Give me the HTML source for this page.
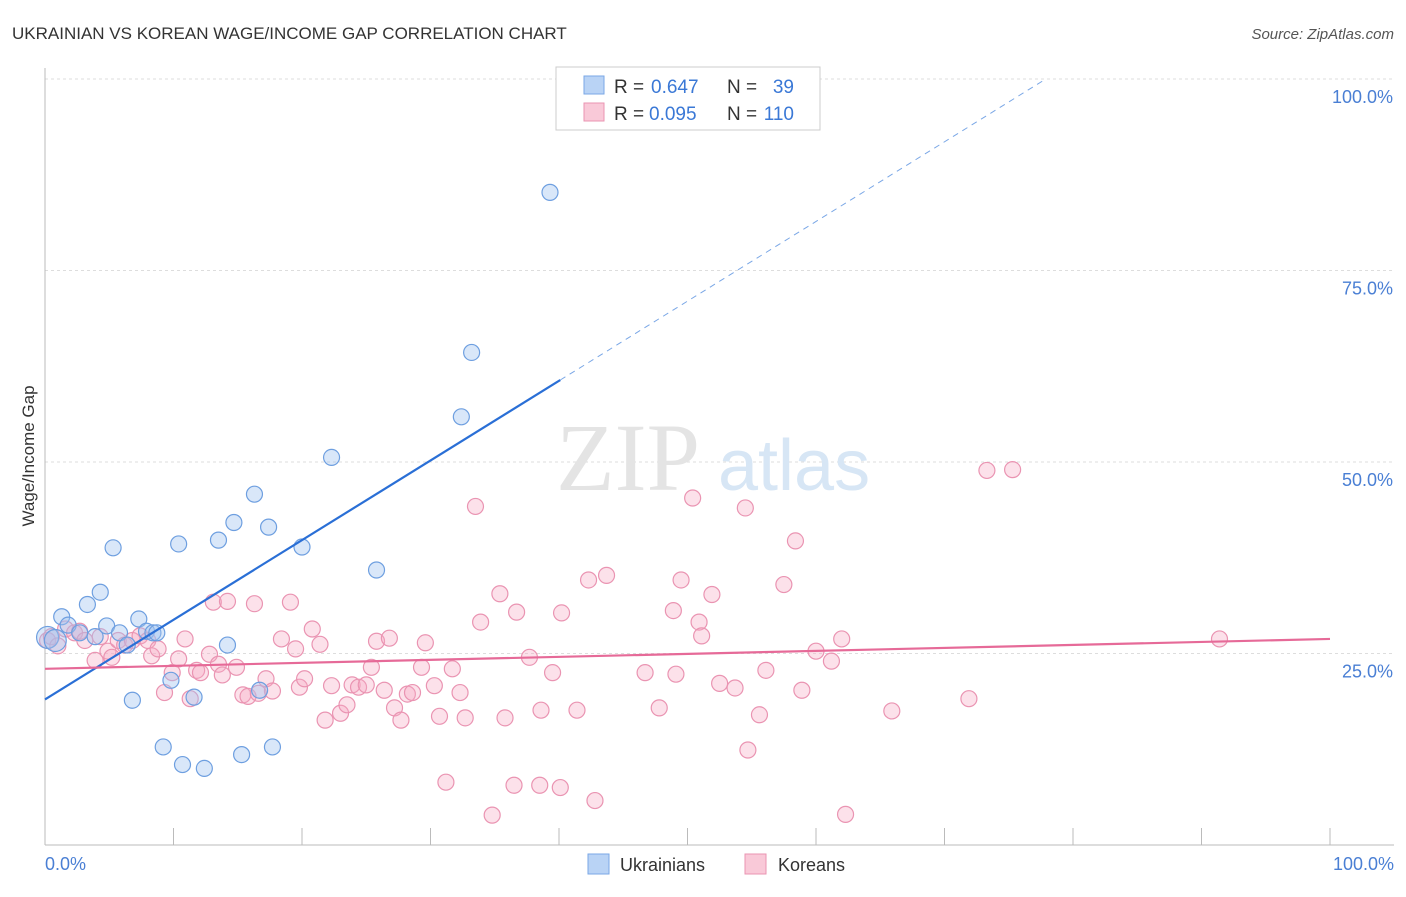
<!DOCTYPE html>
<html><head><meta charset="utf-8"><style>
body{margin:0;background:#fff;font-family:"Liberation Sans",sans-serif;}
</style></head><body>
<svg width="1406" height="892" xmlns="http://www.w3.org/2000/svg" style="font-family:'Liberation Sans',sans-serif">
<text x="12" y="39" font-size="17" fill="#333">UKRAINIAN VS KOREAN WAGE/INCOME GAP CORRELATION CHART</text>
<text x="1394" y="39" font-size="15" fill="#555" text-anchor="end" font-style="italic">Source: ZipAtlas.com</text>
<g id="grid"></g>
<text x="700" y="490" font-size="96" fill="#e4e4e4" text-anchor="end" font-family="Liberation Serif">ZIP</text>
<text x="718" y="490" font-size="72" fill="#d7e6f5">atlas</text>
<line x1="45" y1="68" x2="45" y2="845" stroke="#bbb"/>
<line x1="45" y1="845" x2="1394" y2="845" stroke="#bbb"/>
<g id="ticks"></g>
<g id="ylabels"></g>
<text x="45" y="870" font-size="18" fill="#4a7fd4">0.0%</text>
<text x="1394" y="870" font-size="18" fill="#4a7fd4" text-anchor="end">100.0%</text>
<text transform="translate(34,456) rotate(-90)" font-size="17" fill="#333" text-anchor="middle">Wage/Income Gap</text>
<g id="pink"></g>
<g id="blue"></g>
<g id="lines"></g>
<g>
<rect x="556" y="67" width="264" height="63" fill="#fff" stroke="#ccc"/>
<rect x="584" y="76" width="20" height="18" fill="#b9d3f5" stroke="#7aa7e6"/>
<rect x="584" y="103" width="20" height="18" fill="#f9c9d8" stroke="#ea94b2"/>
<text x="614" y="93" font-size="19" fill="#333">R =</text>
<text x="651" y="93" font-size="19" fill="#3a78d6">0.647</text>
<text x="727" y="93" font-size="19" fill="#333">N =</text>
<text x="794" y="93" font-size="19" fill="#3a78d6" text-anchor="end">39</text>
<text x="614" y="120" font-size="19" fill="#333">R =</text>
<text x="649" y="120" font-size="19" fill="#3a78d6">0.095</text>
<text x="727" y="120" font-size="19" fill="#333">N =</text>
<text x="794" y="120" font-size="19" fill="#3a78d6" text-anchor="end">110</text>
</g>
<g>
<rect x="588" y="854" width="21" height="20" fill="#b9d3f5" stroke="#7aa7e6"/>
<text x="620" y="871" font-size="18" fill="#333">Ukrainians</text>
<rect x="745" y="854" width="21" height="20" fill="#f9c9d8" stroke="#ea94b2"/>
<text x="778" y="871" font-size="18" fill="#333">Koreans</text>
</g>
</svg>
<script>
const blueX=[0.2,0.8,1.3,1.8,2.7,3.3,3.9,4.3,4.8,5.3,5.8,6.4,6.8,7.3,7.9,8.4,8.7,9.2,9.8,10.4,10.7,11.6,12.4,13.5,14.2,14.7,15.3,16.3,16.7,17.4,17.7,20.0,22.3,25.8,32.4,33.2,39.3];
const blueY=[27.1,26.7,29.8,28.7,27.7,31.4,27.2,33.0,28.6,38.8,27.7,26.1,18.9,29.5,27.9,27.7,27.7,12.8,21.5,39.3,10.5,19.3,10.0,39.8,26.1,42.1,11.8,45.8,20.2,41.5,12.8,38.9,50.6,35.9,55.9,64.3,85.2];
const pinkX=[0.2,0.5,1.0,1.6,2.3,2.7,3.1,3.9,4.3,4.9,5.2,5.7,6.2,6.8,7.4,8.0,8.3,8.8,9.3,9.9,10.4,10.9,11.3,11.8,12.1,12.8,13.1,13.5,13.8,14.2,14.9,15.4,15.8,16.3,16.6,17.2,17.7,18.4,19.1,19.5,19.8,20.2,20.8,21.4,21.8,22.3,23.0,23.5,23.9,24.4,25.0,25.4,25.8,26.4,26.8,27.2,27.7,28.2,28.6,29.3,29.6,30.3,30.7,31.2,31.7,32.3,32.7,33.5,33.9,34.8,35.4,35.8,36.5,36.7,37.7,38.5,38.6,39.5,40.1,40.2,41.4,42.3,42.8,43.7,46.7,47.8,48.9,49.1,49.5,50.4,50.9,51.1,51.9,52.5,53.7,54.5,54.7,55.6,56.1,57.5,58.4,58.9,60.0,61.2,62.0,62.3,65.9,71.9,73.3,75.3,91.4];
const pinkY=[26.7,27.2,26.0,28.2,27.7,27.9,26.7,24.1,27.2,25.3,24.5,26.7,26.1,26.7,27.3,26.7,24.7,25.6,19.9,22.5,24.3,26.9,19.1,22.8,22.5,24.9,31.7,23.6,22.2,31.8,23.2,19.6,19.4,31.5,19.8,21.7,20.1,26.9,31.7,25.6,20.6,21.7,28.2,26.2,16.3,20.8,17.2,18.3,20.9,20.6,20.9,23.2,26.6,20.2,27.0,17.9,16.3,19.7,19.9,23.2,26.4,20.8,16.8,8.2,23.0,19.9,16.6,44.2,29.1,3.9,32.8,16.6,7.8,30.4,24.5,7.8,17.6,22.5,7.5,30.3,17.6,34.6,5.8,35.2,22.5,17.9,30.6,22.3,34.6,45.3,29.1,27.3,32.7,21.1,20.5,44.0,12.4,17.0,22.8,34.0,39.7,20.2,25.3,24.0,26.9,4.0,17.5,19.1,48.9,49.0,26.9];
const yTicks=[25,50,75,100];
const yTickLabels=["25.0%","50.0%","75.0%","100.0%"];
const xTicks=[10,20,30,40,50,60,70,80,90,100];
const blueFit=[19.0,1.04];
const pinkFit=[23.0,0.039];
const X=v=>45+v*12.85, Y=v=>845-v*7.66;
const NS="http://www.w3.org/2000/svg";
function mk(t,a,p){const e=document.createElementNS(NS,t);for(const k in a)e.setAttribute(k,a[k]);document.getElementById(p).appendChild(e);return e;}
yTicks.forEach((v,i)=>{
 const l=mk('line',{x1:45,x2:1394,y1:Y(v),y2:Y(v),stroke:'#ddd','stroke-dasharray':'3,3'},'grid');
 
 
 const t=mk('text',{x:1393,y:Y(v)+24,'font-size':18,fill:'#4a7fd4','text-anchor':'end'},'ylabels');
 t.textContent=yTickLabels[i];
 
 
});
xTicks.forEach(v=>{
 const l=mk('line',{x1:X(v),x2:X(v),y1:828,y2:845,stroke:'#bbb'},'ticks');
 
 
});
pinkX.forEach((x,i)=>{
 const c=mk('circle',{cx:X(x),cy:Y(pinkY[i]),r:8,fill:'rgba(245,170,196,0.35)',stroke:'#ea94b2','stroke-width':1.2},'pink');
 
 
});
blueX.forEach((x,i)=>{
 const c=mk('circle',{cx:X(x),cy:Y(blueY[i]),r:i<2?11:8,fill:'rgba(160,195,240,0.4)',stroke:'#6e9fe0','stroke-width':1.2},'blue');
 
 
});
const bx1=0,bx2=40.1,bx3=(100-blueFit[0])/blueFit[1];
let l=mk('line',{x1:X(bx1),y1:Y(blueFit[0]),x2:X(bx2),y2:Y(blueFit[0]+blueFit[1]*bx2),stroke:'#2a6fd6','stroke-width':2.2},'lines');


l=mk('line',{x1:X(bx2),y1:Y(blueFit[0]+blueFit[1]*bx2),x2:X(bx3),y2:Y(100),stroke:'#7aa7e6','stroke-width':1,'stroke-dasharray':'6,5'},'lines');


l=mk('line',{x1:X(0),y1:Y(pinkFit[0]),x2:X(100),y2:Y(pinkFit[0]+pinkFit[1]*100),stroke:'#e66a98','stroke-width':2.2},'lines');


</script>
</body></html>
